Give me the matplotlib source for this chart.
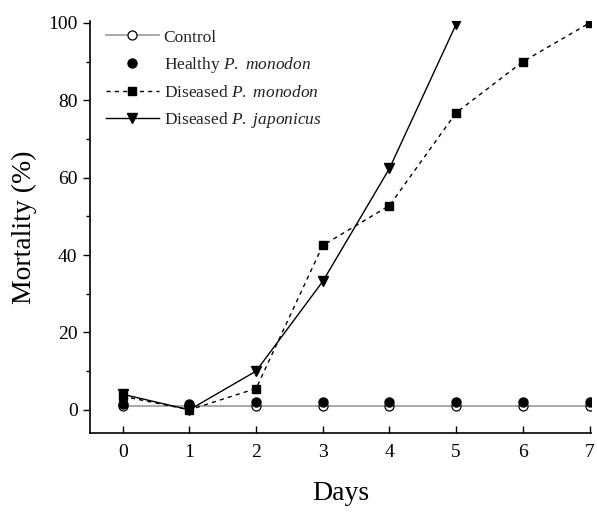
import matplotlib
matplotlib.use("Agg")
import matplotlib.pyplot as plt
from matplotlib.ticker import MultipleLocator

plt.rcParams['font.family'] = ['Liberation Serif', 'DejaVu Serif']
plt.rcParams['mathtext.fontset'] = 'custom'
plt.rcParams['mathtext.rm'] = 'Liberation Serif'
plt.rcParams['mathtext.it'] = 'Liberation Serif:italic'

days = [0, 1, 2, 3, 4, 5, 6, 7]
control = [1, 1, 1, 1, 1, 1, 1, 1]
healthy_monodon = [1.5, 1.5, 2, 2, 2, 2, 2, 2]
diseased_monodon = [3.5, 0, 5.5, 42.5, 52.8, 76.8, 90, 100]
days_japonicus = [0, 1, 2, 3, 4, 5]
diseased_japonicus = [4, 0, 10, 33.2, 62.4, 99.7]

fig = plt.figure(figsize=(5.97, 5.19), dpi=100)
ax = fig.add_axes([0.1508, 0.1657, 0.839, 0.7938])

ax.plot(days, control, color='#9a9a9a', lw=1.2, marker='o', ms=6.5,
        mfc='white', mec='black', mew=0.9, label='Control', zorder=2)
ax.plot(days, healthy_monodon, linestyle='none', marker='o', ms=6.5,
        color='black', label=r'Healthy $\it{P.}$ $\it{monodon}$', zorder=3)
ax.plot(days, diseased_monodon, linestyle=(0, (3, 3)), color='black', lw=1.0,
        marker='s', ms=5.8, label=r'Diseased $\it{P.}$ $\it{monodon}$', zorder=4)
ax.plot(days_japonicus, diseased_japonicus, linestyle='-', color='black', lw=1.0,
        marker='v', ms=7.2, label=r'Diseased $\it{P.}$ $\it{japonicus}$', zorder=5)

ax.set_xlim(-0.49, 7.02)
ax.set_ylim(-6, 100.5)
ax.set_xticks(days)
ax.yaxis.set_major_locator(MultipleLocator(20))
ax.yaxis.set_minor_locator(MultipleLocator(10))
ax.tick_params(axis='x', direction='in', length=5, width=1, labelsize=14, pad=8)
ax.tick_params(axis='y', which='major', direction='out', length=5, width=1, labelsize=14, pad=4)
ax.tick_params(axis='y', which='minor', direction='out', length=3, width=1)
for s in ['top', 'right']:
    ax.spines[s].set_visible(False)
for s in ['left', 'bottom']:
    ax.spines[s].set_linewidth(1.2)

ax.set_xlabel('Days', fontsize=20, labelpad=14)
ax.set_ylabel('Mortality (%)', fontsize=20, labelpad=8)

leg = ax.legend(loc='upper left', bbox_to_anchor=(0.012, 1.005), frameon=False,
                fontsize=12.5, handlelength=3.0, handletextpad=0.3,
                labelspacing=0.55, numpoints=1, borderaxespad=0.2)
for t in leg.get_texts():
    t.set_color('#222222')

fig.savefig('out.png', dpi=100)
